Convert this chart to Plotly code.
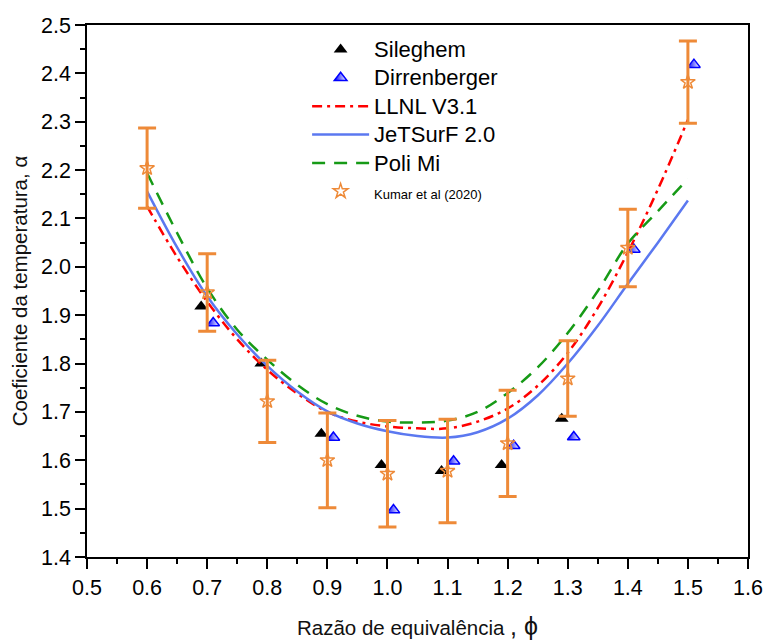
import plotly.graph_objects as go

# Experimental data
sil_x = [0.69, 0.79, 0.89, 0.99, 1.09, 1.19, 1.29]
sil_y = [1.918, 1.800, 1.655, 1.590, 1.578, 1.590, 1.686]

dir_x = [0.71, 0.91, 1.01, 1.11, 1.21, 1.31, 1.41, 1.51]
dir_y = [1.884, 1.647, 1.497, 1.598, 1.630, 1.648, 2.036, 2.418]

kum_x = [0.6, 0.7, 0.8, 0.9, 1.0, 1.1, 1.2, 1.3, 1.4, 1.5]
kum_y = [2.204, 1.947, 1.722, 1.600, 1.572, 1.578, 1.635, 1.769, 2.039, 2.382]
kum_err = [0.083, 0.080, 0.085, 0.098, 0.110, 0.107, 0.110, 0.078, 0.080, 0.085]

# Model curves
mod_x = [0.6, 0.65, 0.7, 0.75, 0.8, 0.85, 0.9, 0.95, 1.0, 1.05, 1.1,
         1.15, 1.2, 1.25, 1.3, 1.35, 1.4, 1.45, 1.5]
llnl_y = [2.125, 2.020, 1.928, 1.850, 1.787, 1.738, 1.700, 1.680, 1.670, 1.666,
          1.666, 1.680, 1.707, 1.754, 1.822, 1.915, 2.030, 2.160, 2.304]
jet_y = [2.156, 2.040, 1.939, 1.860, 1.795, 1.742, 1.701, 1.676, 1.660, 1.650,
         1.647, 1.658, 1.686, 1.734, 1.800, 1.878, 1.965, 2.050, 2.137]
poli_y = [2.194, 2.070, 1.956, 1.870, 1.808, 1.756, 1.716, 1.692, 1.680, 1.678,
          1.682, 1.700, 1.739, 1.792, 1.863, 1.950, 2.048, 2.115, 2.182]

ORANGE = "#EE8A38"
FONT = "Liberation Sans, Arial"


def big(s):
    return "<span style='font-size:22px'>" + s + "</span>"


fig = go.Figure()

fig.add_trace(go.Scatter(
    x=sil_x, y=sil_y, mode="markers", name=big("Sileghem"),
    marker=dict(symbol="triangle-up", size=12, color="black")))

fig.add_trace(go.Scatter(
    x=dir_x, y=dir_y, mode="markers", name=big("Dirrenberger"),
    marker=dict(symbol="triangle-up", size=11, color="#0000FF",
                gradient=dict(type="horizontal", color="white"),
                line=dict(color="#0000FF", width=1.5))))

fig.add_trace(go.Scatter(
    x=mod_x, y=llnl_y, mode="lines", name=big("LLNL V3.1"),
    line=dict(color="#FF0000", width=2.5, dash="10px,5px,3px,5px", shape="spline")))

fig.add_trace(go.Scatter(
    x=mod_x, y=jet_y, mode="lines", name=big("JeTSurF 2.0"),
    line=dict(color="#5B78F0", width=2.5, shape="spline")))

fig.add_trace(go.Scatter(
    x=mod_x, y=poli_y, mode="lines", name=big("Poli Mi"),
    line=dict(color="#169A16", width=2.5, dash="13px,9px", shape="spline")))

fig.add_trace(go.Scatter(
    x=kum_x, y=kum_y, mode="markers",
    name="<span style='font-size:13px'>Kumar et al (2020)</span>",
    marker=dict(symbol="star-open", size=11, color=ORANGE, line=dict(width=1.5)),
    error_y=dict(type="data", array=kum_err, visible=True, color=ORANGE,
                 thickness=3, width=9)))

axis_common = dict(
    showline=True, linecolor="black", linewidth=1.5, mirror=True,
    ticks="outside", ticklen=10, tickwidth=1.5, tickcolor="black",
    showgrid=False, zeroline=False, tickformat=".1f", automargin=False,
    tickfont=dict(family=FONT, size=21.5, color="black"),
    minor=dict(ticks="outside", ticklen=5, tickwidth=1.5, tickcolor="black", dtick=0.05),
)

fig.update_xaxes(range=[0.5, 1.6], dtick=0.1, tick0=0.5,
                 title=dict(text="Razão de equivalência <span style='font-size:25px'>, ϕ</span>",
                            font=dict(family=FONT, size=20.5, color="#111"),
                            standoff=22),
                 **axis_common)
fig.update_yaxes(range=[1.4, 2.5], dtick=0.1, tick0=1.4,
                 title=dict(text="Coeficiente da temperatura, α",
                            font=dict(family=FONT, size=20.5, color="#111"),
                            standoff=8),
                 **axis_common)

fig.update_layout(
    width=766, height=641,
    margin=dict(l=87, r=18, t=25, b=84),
    plot_bgcolor="white", paper_bgcolor="white",
    font=dict(family=FONT, color="black"),
    legend=dict(x=0.333, y=0.99, xanchor="left", yanchor="top",
                bgcolor="rgba(0,0,0,0)", itemwidth=57,
                font=dict(size=19.5, color="black"), tracegroupgap=0),
)

fig.write_html("out.html")
